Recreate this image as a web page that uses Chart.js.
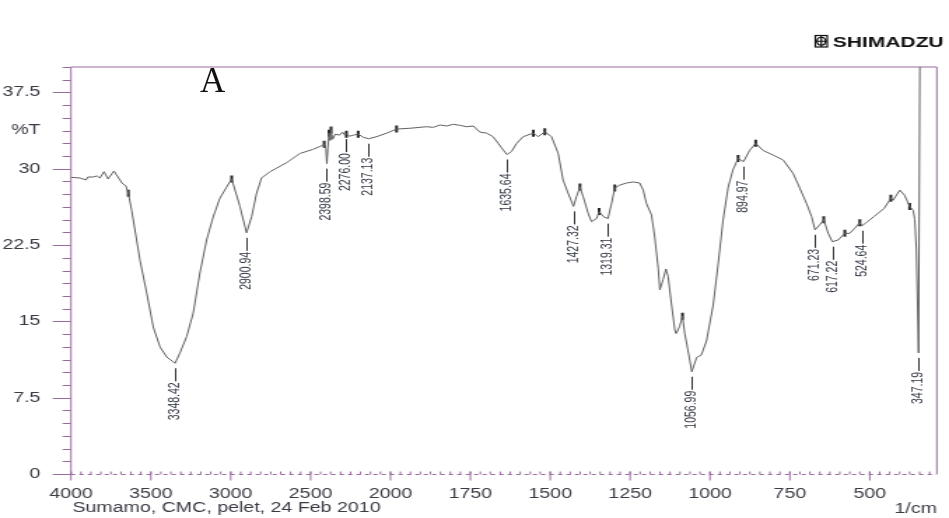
<!DOCTYPE html>
<html>
<head>
<meta charset="utf-8">
<title>FTIR spectrum - CMC pellet</title>
<script src="https://cdn.jsdelivr.net/npm/chart.js@4/dist/chart.umd.min.js"></script>
<style>
  html, body { margin: 0; padding: 0; background: #fff; overflow: hidden; }
  #stage { position: relative; width: 949px; height: 518px; }
  /* the instrument print-out is laid out wide: the plot is drawn at 678 px and widened */
  #wrap { position: absolute; left: 0; top: 0; width: 678px; height: 518px;
          transform: scaleX(1.39971); transform-origin: 0 0; }
  #panel { position: absolute; left: 200px; top: 63px; font-family: "Liberation Serif", "Times New Roman", serif;
           font-size: 35px; line-height: 35px; color: #111; }
</style>
</head>
<body>
<div id="stage">
  <div id="wrap"><canvas id="c" width="678" height="518"></canvas></div>
  <div id="panel">A</div>
</div>
<script>
// Wavenumber (1/cm) of each trace point
const wn = [
  4000, 3944, 3906, 3894, 3862, 3837, 3819, 3793, 3768, 3731, 3706, 3681, 3656, 3641, 3620,
  3568, 3526, 3485, 3443, 3401, 3348.42, 3318, 3276, 3235, 3193, 3151, 3110, 3068, 3026, 2994,
  2942, 2900.94, 2869, 2838, 2807, 2755, 2650, 2567, 2486, 2440, 2415, 2404, 2398.59, 2392, 2385,
  2378, 2372, 2362, 2345, 2320, 2300, 2285, 2276, 2255, 2233, 2202, 2171, 2137.13, 2087, 2024,
  1981, 1939, 1887, 1866, 1845, 1824, 1804, 1783, 1762, 1741, 1720, 1699, 1679, 1663, 1647,
  1635.64, 1621, 1605, 1585, 1553, 1538, 1517, 1496, 1475, 1460, 1444, 1427.32, 1418, 1407, 1397,
  1381, 1371, 1355, 1347, 1334, 1319.31, 1308, 1298, 1282, 1261, 1241, 1220, 1209, 1199, 1183,
  1173, 1162, 1157, 1147, 1138, 1131, 1121, 1110, 1106, 1095, 1086, 1079, 1065, 1056.99, 1042,
  1027, 1011, 990, 975, 959, 943, 928, 912, 894.97, 876, 857, 834, 803, 771, 740,
  719, 698, 682, 671.23, 656, 644, 630, 617.22, 599, 578, 563, 547, 531, 524.64, 515,
  487, 455, 434, 427, 406, 391, 375, 364, 359, 354, 347.19, 343
];
// Transmittance (%T) at each wavenumber above
const pct = [
  29.16, 29.09, 28.9, 29.19, 29.19, 29.29, 29.09, 29.71, 29.0, 29.78, 29.19, 28.6, 28.3, 27.6, 25.9,
  21.0, 17.8, 14.45, 12.5, 11.5, 10.88, 11.9, 13.5, 15.8, 19.75, 23.0, 25.26, 27.1, 28.2, 29.0,
  26.27, 23.7, 25.3, 27.6, 29.1, 29.7, 30.6, 31.5, 31.9, 32.2, 32.4, 32.0, 30.5, 32.0, 33.5,
  32.8, 33.8, 32.9, 33.4, 33.3, 33.6, 33.3, 33.4, 33.2, 33.3, 33.4, 33.1, 32.95, 33.15, 33.5,
  33.9, 33.98, 34.13, 34.07, 34.3, 34.2, 34.37, 34.27, 34.13, 34.2, 33.6, 33.5, 33.15, 32.5, 31.84,
  31.4, 31.7, 32.5, 33.15, 33.5, 33.15, 33.64, 33.15, 31.5, 28.9, 27.6, 26.3, 27.25, 28.2, 27.25,
  25.6, 24.8, 25.1, 25.8, 25.3, 25.1, 26.6, 28.1, 28.4, 28.6, 28.7, 28.6, 27.9, 26.6, 25.45,
  23.3, 20.2, 18.1, 19.1, 20.15, 19.4, 16.8, 14.15, 13.8, 14.5, 15.5, 13.8, 11.5, 10.05, 11.45,
  11.7, 13.07, 16.6, 20.5, 24.96, 28.2, 29.9, 31.0, 30.7, 31.8, 32.5, 31.8, 31.35, 30.86, 29.55,
  28.1, 26.6, 25.3, 24.0, 24.5, 25.0, 23.65, 22.83, 23.0, 23.65, 23.65, 24.15, 24.7, 24.4, 24.6,
  25.3, 26.1, 27.1, 26.9, 27.9, 27.4, 26.3, 25.9, 25.0, 22.0, 11.9, 42
];
// Small peak-pick marks drawn on the trace
const markWn = [3641, 2994, 2415, 2385, 2372, 2276, 2202, 1981, 1553, 1517, 1407, 1347, 1298,
                1086, 912, 857, 644, 578, 531, 434, 375];
// Picked peaks printed below the trace
const peakWn = [3348.42, 2900.94, 2398.59, 2276.00, 2137.13, 1635.64, 1427.32, 1319.31,
                1056.99, 894.97, 671.23, 617.22, 524.64, 347.19];
// Axis tick labels
const xTickWn = [4000, 3500, 3000, 2500, 2000, 1750, 1500, 1250, 1000, 750, 500];
const yTickVals = [0, 7.5, 15, 22.5, 30, 37.5];
const yUnitAt = 33.75;          // "%T" sits between 30 and 37.5
const WN_HIGH = 4000, WN_LOW = 290;
const footerText = 'Sumamo, CMC, pelet, 24 Feb 2010';
const unitText = '1/cm';

const AXIS = '#9a6b9f';
const INK = '#3b3b45';
const FONT = '"Liberation Sans", Arial, sans-serif';

// Abscissa is drawn at half scale above 2000 1/cm (usual IR print-out)
function toAxis(w) { return w >= 2000 ? (WN_HIGH - w) / 2 : 1000 + (2000 - w); }
function fromAxis(u) { return u <= 1000 ? WN_HIGH - 2 * u : 2000 - (u - 1000); }
function pctAt(w) { return pct[wn.indexOf(w)]; }

const tracePoints = wn.map((w, i) => ({ x: toAxis(w), y: pct[i] }));
const markPoints = markWn.map(w => ({ x: toAxis(w), y: pctAt(w) }));

// Frame, dashed abscissa and tick marks
const framePlugin = {
  id: 'frame',
  beforeDatasetsDraw(chart) {
    const { ctx, chartArea: a, scales: { x, y } } = chart;
    ctx.save();
    ctx.strokeStyle = AXIS;
    ctx.lineWidth = 1;
    ctx.beginPath();
    ctx.moveTo(a.left, a.bottom);
    ctx.lineTo(a.left, a.top);
    ctx.lineTo(a.right, a.top);
    ctx.lineTo(a.right, a.bottom);
    ctx.stroke();

    // ordinate ticks: long at labelled values, short every 1.25 %T
    for (let v = 0; v <= 40.001; v += 1.25) {
      const py = Math.round(y.getPixelForValue(v)) + 0.5;
      const major = yTickVals.some(t => Math.abs(t - v) < 1e-6);
      ctx.beginPath();
      ctx.moveTo(a.left - (major ? 13 : 6), py);
      ctx.lineTo(a.left, py);
      ctx.stroke();
    }

    // abscissa: dashed rule with small ticks
    const by = Math.round(a.bottom) + 0.5;
    ctx.setLineDash([3, 3]);
    ctx.beginPath();
    ctx.moveTo(a.left, by);
    ctx.lineTo(a.right, by);
    ctx.stroke();
    ctx.setLineDash([]);
    const uMax = toAxis(WN_LOW);
    for (let u = 0; u <= uMax; u += 31.25) {
      const px = x.getPixelForValue(u);
      ctx.beginPath();
      ctx.moveTo(px, by - 3);
      ctx.lineTo(px, by);
      ctx.stroke();
    }
    xTickWn.forEach(w => {
      const px = x.getPixelForValue(toAxis(w));
      ctx.beginPath();
      ctx.moveTo(px, by - 3);
      ctx.lineTo(px, by + 6);
      ctx.stroke();
    });
    ctx.restore();
  }
};

// Peak values printed vertically under each picked minimum, plus page texts
const annotatePlugin = {
  id: 'annotate',
  afterDatasetsDraw(chart) {
    const { ctx, chartArea: a, scales: { x, y } } = chart;
    ctx.save();
    ctx.strokeStyle = '#333';
    ctx.fillStyle = '#2f3440';
    ctx.lineWidth = 1;
    ctx.font = '10.5px ' + FONT;
    peakWn.forEach(w => {
      const px = Math.round(x.getPixelForValue(toAxis(w))) + 0.5;
      const py = y.getPixelForValue(pctAt(w));
      ctx.beginPath();
      ctx.moveTo(px, py + 5);
      ctx.lineTo(px, py + 18);
      ctx.stroke();
      ctx.save();
      ctx.translate(px, py + 19);
      ctx.rotate(-Math.PI / 2);
      ctx.textAlign = 'right';
      ctx.textBaseline = 'middle';
      ctx.fillText(w.toFixed(2), 0, 0);
      ctx.restore();
    });

    // footer line and unit
    ctx.fillStyle = INK;
    ctx.font = '14px ' + FONT;
    ctx.textBaseline = 'middle';
    ctx.textAlign = 'left';
    ctx.fillText(footerText, a.left + 1, 508);
    ctx.textAlign = 'right';
    ctx.fillText(unitText, a.right, 509);

    // maker's mark, top right
    ctx.fillStyle = '#111';
    ctx.strokeStyle = '#111';
    ctx.lineWidth = 1.2;
    ctx.strokeRect(582.5, 35.5, 8.5, 11.5);
    ctx.beginPath();
    ctx.ellipse(586.75, 41.25, 3, 4, 0, 0, Math.PI * 2);
    ctx.moveTo(582.5, 41.25); ctx.lineTo(591, 41.25);
    ctx.moveTo(586.75, 35.5); ctx.lineTo(586.75, 47);
    ctx.stroke();
    ctx.font = 'bold 15px ' + FONT;
    ctx.textAlign = 'left';
    ctx.textBaseline = 'alphabetic';
    ctx.fillText('SHIMADZU', 595, 47);
    ctx.restore();
  }
};

new Chart(document.getElementById('c'), {
  type: 'scatter',
  data: {
    datasets: [
      {
        label: '%T',
        data: tracePoints,
        showLine: true,
        borderColor: '#606060',
        borderWidth: 1,
        pointRadius: 0,
        tension: 0
      },
      {
        label: 'marks',
        data: markPoints,
        showLine: false,
        pointStyle: 'line',
        rotation: 90,
        radius: 3.5,
        borderWidth: 2,
        borderColor: '#262626'
      }
    ]
  },
  options: {
    responsive: false,
    animation: false,
    events: [],
    layout: { padding: { left: 0, top: 67, right: 8.7, bottom: 0 } },
    plugins: { legend: { display: false }, tooltip: { enabled: false } },
    scales: {
      x: {
        type: 'linear',
        min: 0,
        max: toAxis(WN_LOW),
        grid: { display: false },
        border: { display: false },
        afterFit: s => { s.height = 44; },
        afterBuildTicks: s => { s.ticks = xTickWn.map(w => ({ value: toAxis(w) })); },
        ticks: {
          autoSkip: false,
          maxRotation: 0,
          padding: 4,
          color: INK,
          font: { family: FONT, size: 14 },
          callback: v => String(Math.round(fromAxis(v)))
        }
      },
      y: {
        type: 'linear',
        min: 0,
        max: 40,
        grid: { display: false },
        border: { display: false },
        afterFit: s => { s.width = 50.7; },
        afterBuildTicks: s => {
          s.ticks = yTickVals.concat([yUnitAt]).sort((p, q) => p - q).map(v => ({ value: v }));
        },
        ticks: {
          padding: 13.8,
          color: INK,
          font: { family: FONT, size: 14 },
          callback: v => (v === yUnitAt ? '%T' : String(v))
        }
      }
    }
  },
  plugins: [framePlugin, annotatePlugin]
});
</script>
</body>
</html>
